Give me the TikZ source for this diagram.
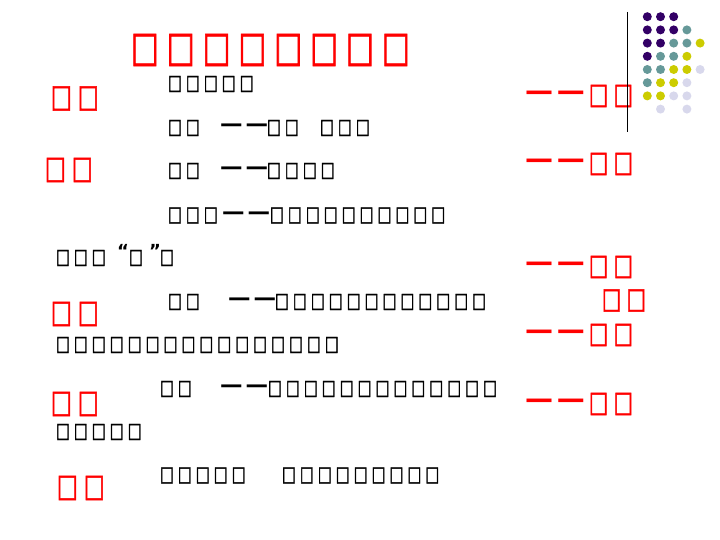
\documentclass[tikz,border=0pt]{standalone}
\usepackage{fontspec}
\newfontfamily\bxf{DejaVu Sans}[FakeStretch=0.70,LetterSpace=19.2,FakeBold=1.6]
\newfontfamily\dsf{DejaVu Sans}[LetterSpace=14]
\newfontfamily\qf{DejaVu Sans}
\definecolor{dpur}{HTML}{330066}
\definecolor{dteal}{HTML}{669999}
\definecolor{dyel}{HTML}{CCCC00}
\definecolor{dlav}{HTML}{D8D8EC}
\tikzset{
  tx/.style={anchor=west,inner sep=0pt,outer sep=0pt},
  blk/.style={tx,font=\bxf\fontsize{21}{21}\selectfont},
  ttl/.style={tx,text=red,font=\bxf\fontsize{42}{42}\selectfont},
  lbl/.style={tx,text=red,font=\bxf\fontsize{31.5}{31.5}\selectfont},
  rlbl/.style={tx,text=red,font=\bxf\fontsize{29}{29}\selectfont},
  bdash/.style={tx,font=\dsf\bfseries\fontsize{22.5}{22.5}\selectfont},
  rdash/.style={tx,text=red,font=\dsf\bfseries\fontsize{28}{28}\selectfont},
  qt/.style={tx,font=\qf\bfseries\fontsize{18}{18}\selectfont},
  dot/.style={circle,inner sep=0pt,minimum size=9pt,draw=none},
}
\begin{document}
\begin{tikzpicture}[x=1pt,y=-1pt]
\useasboundingbox (0,0) rectangle (720,540);
% title
\node[ttl] (title) at (131,50) {□□□□□□□□};
% left red labels
\node[lbl] (la) at (51,98.5) {□□};
\node[lbl] (lb) at (45,170) {□□};
\node[lbl] (lc) at (51,314) {□□};
\node[lbl] (ld) at (51,404) {□□};
\node[lbl] (le) at (57,488) {□□};
% black lines
\node[blk] (a1) at (168,84) {□□□□□};
\node[blk] (b1) at (168,128) {□□};
\node[bdash] (b2) at (220,128) {——};
\node[blk] (b3) at (267,128) {□□};
\node[blk] (b4) at (320,128) {□□□};
\node[blk] (c1) at (168,171) {□□};
\node[bdash] (c2) at (220,171) {——};
\node[blk] (c3) at (267,171) {□□□□};
\node[blk] (d1) at (168,215.5) {□□□};
\node[bdash] (d2) at (222,215.5) {——};
\node[blk] (d3) at (270,215.5) {□□□□□□□□□□};
\node[blk] (e1) at (56,258) {□□□};
\node[qt] (e2) at (117,251) {“};
\node[blk] (e3) at (129,258) {□};
\node[qt] (e4) at (149,251) {”};
\node[blk] (e5) at (160,258) {□};
\node[blk] (f1) at (168,302) {□□};
\node[bdash] (f2) at (228,302) {——};
\node[blk] (f3) at (275,302) {□□□□□□□□□□□□};
\node[blk] (g1) at (56,345) {□□□□□□□□□□□□□□□□};
\node[blk] (h1) at (160,389) {□□};
\node[bdash] (h2) at (220,389) {——};
\node[blk] (h3) at (268,389) {□□□□□□□□□□□□□};
\node[blk] (i1) at (56,432) {□□□□□};
\node[blk] (j1) at (160,475.5) {□□□□□};
\node[blk] (j2) at (282,475.5) {□□□□□□□□□};
% right column
\node[rdash] (ra1) at (525,96) {——};
\node[rlbl] (ra2) at (589,96) {□□};
\node[rdash] (rb1) at (525,164) {——};
\node[rlbl] (rb2) at (589,164) {□□};
\node[rdash] (rc1) at (525,267) {——};
\node[rlbl] (rc2) at (589,267) {□□};
\node[rlbl] (rd2) at (602,300.5) {□□};
\node[rdash] (re1) at (525,335) {——};
\node[rlbl] (re2) at (589,335) {□□};
\node[rdash] (rf1) at (525,404) {——};
\node[rlbl] (rf2) at (589,404) {□□};
% vertical rule
\coordinate (vt) at (627.5,12);
\coordinate (vb) at (627.5,132);
\draw[line width=1pt] (vt) -- (vb);
% dot grid
\foreach \r/\c/\col in {0/0/dpur,0/1/dpur,0/2/dpur,
  1/0/dpur,1/1/dpur,1/2/dpur,1/3/dteal,
  2/0/dpur,2/1/dpur,2/2/dteal,2/3/dteal,2/4/dyel,
  3/0/dpur,3/1/dteal,3/2/dteal,3/3/dyel,
  4/0/dteal,4/1/dteal,4/2/dyel,4/3/dyel,4/4/dlav,
  5/0/dteal,5/1/dyel,5/2/dyel,5/3/dlav,
  6/0/dyel,6/1/dyel,6/2/dlav,6/3/dlav,
  7/1/dlav,7/3/dlav}
  \node[dot,fill=\col] (dot\r\c) at ({647.3+13.2*\c},{16.7+13.2*\r}) {};
\end{tikzpicture}
\end{document}
